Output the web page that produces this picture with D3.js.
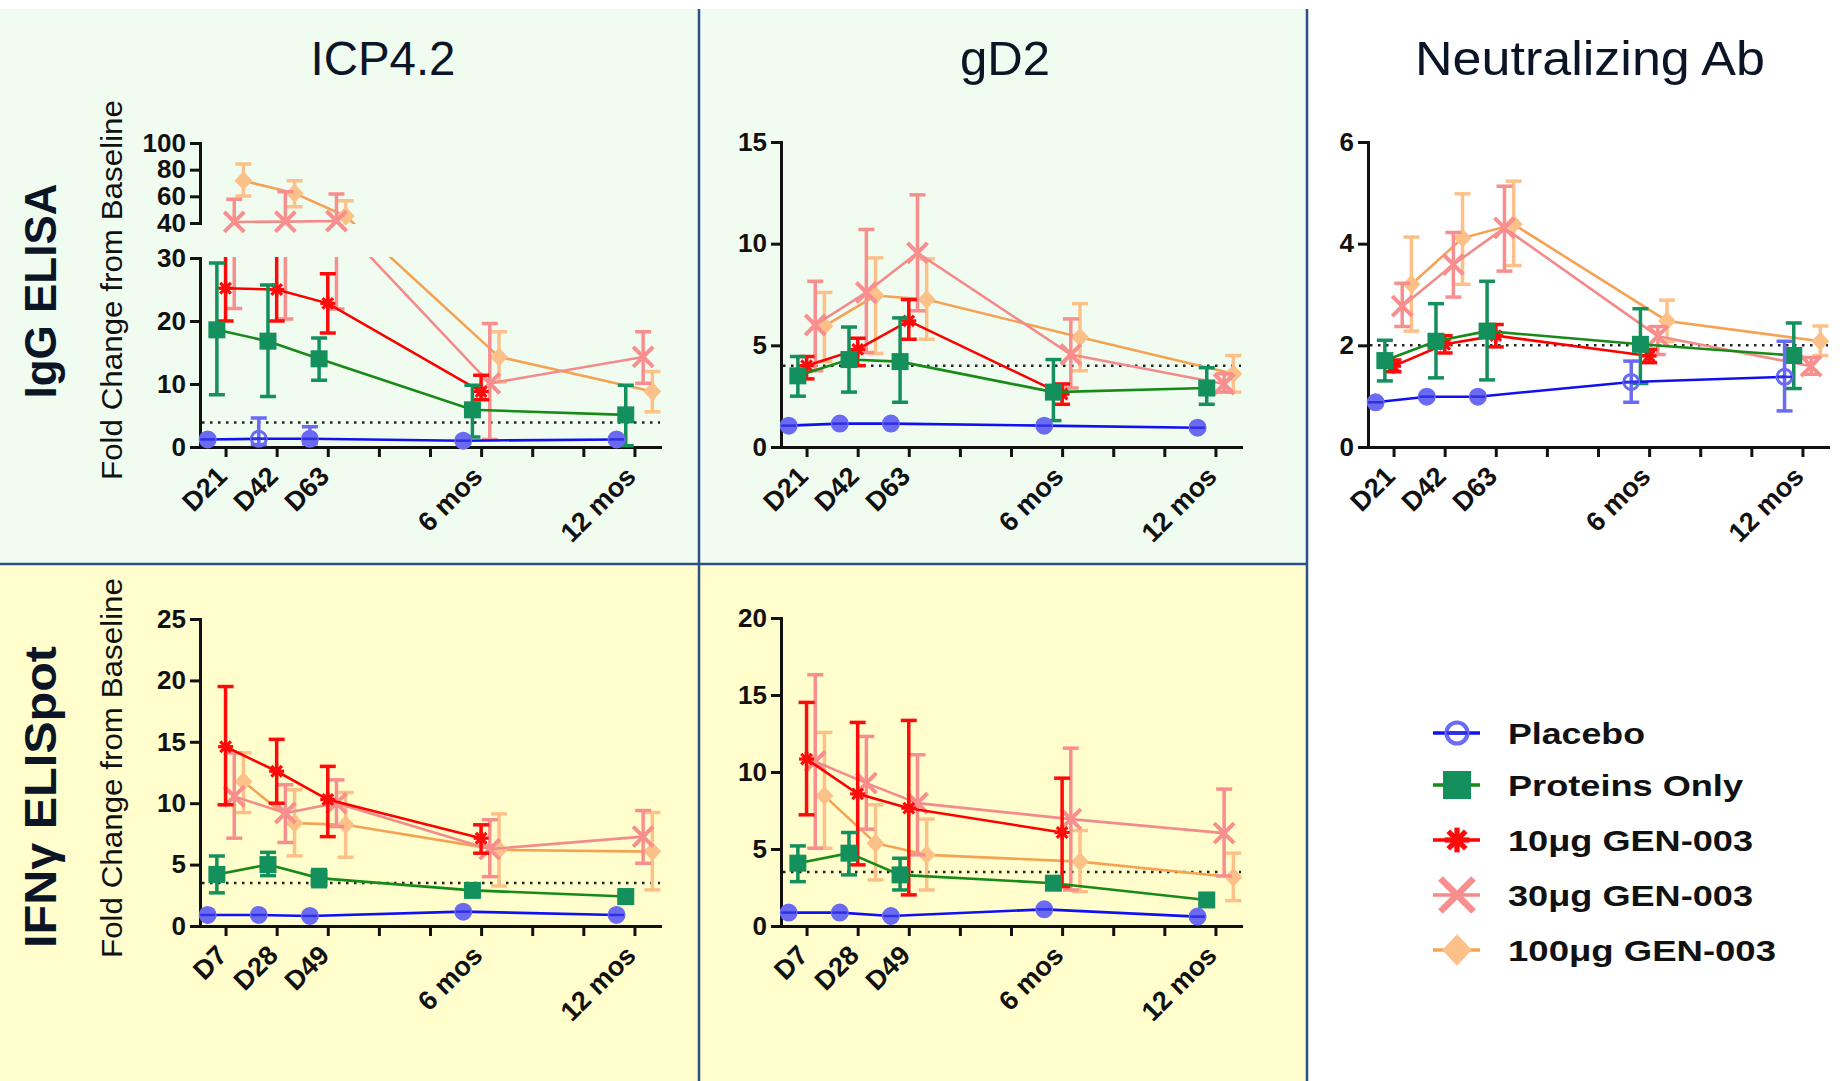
<!DOCTYPE html>
<html>
<head>
<meta charset="utf-8">
<script src="https://cdn.jsdelivr.net/npm/d3@7"></script>
<style>
  body { margin: 0; background: #fff; }
  svg { display: block; }
  text { font-family: "Liberation Sans", Arial, sans-serif; }
</style>
</head>
<body>
<svg id="chart" width="1843" height="1081"></svg>
<script>
// ---- data ----
const groups = ["Placebo", "Proteins Only", "10\u03bcg GEN-003", "30\u03bcg GEN-003", "100\u03bcg GEN-003"];
const iggTimes = ["D21", "D42", "D63", "6 mos", "12 mos"];
const ifnTimes = ["D7", "D28", "D49", "6 mos", "12 mos"];
const timeIdx = [1, 2, 3, 6, 9];   // position on the x axis (9 ticks)

// ICP4.2 IgG ELISA  (rows = groups, cols = time points)
const icpIggMean = [
  [1.2, 1.3, 1.3, 1.0, 1.2],
  [18.6, 16.8, 14.0, 5.9, 5.1],
  [25.2, 25.0, 22.8, 8.8, null],
  [40.8, 41.0, 41.5, 10.1, 14.3],
  [71.7, 62.3, 45.2, 14.3, 8.8]
];
const icpIggLow = [
  [1.0, 0.4, 0.5, 0.8, 1.0],
  [8.3, 8.0, 10.6, 1.6, 0.2],
  [20.0, 20.0, 18.1, 7.5, null],
  [22.0, 20.3, 21.9, 1.2, 10.1],
  [60.2, 52.2, 36.0, 10.3, 5.6]
];
const icpIggHigh = [
  [1.4, 4.6, 3.2, 1.2, 1.4],
  [29.2, 25.7, 17.3, 9.8, 9.8],
  [33.0, 33.0, 27.5, 11.4, null],
  [57.8, 63.5, 61.7, 19.6, 18.3],
  [84.2, 71.7, 56.7, 18.3, 12.0]
];

// gD2 IgG ELISA
const gd2IggMean = [
  [1.05, 1.15, 1.15, 1.05, 0.95],
  [3.5, 4.3, 4.2, 2.7, 2.9],
  [4.0, 4.8, 6.2, 2.6, null],
  [6.0, 7.6, 9.55, 4.55, 3.1],
  [5.95, 7.45, 7.25, 5.4, 3.6]
];
const gd2IggLow = [
  [0.95, 1.05, 1.05, 0.95, 0.85],
  [2.5, 2.7, 2.2, 1.3, 2.1],
  [3.35, 4.0, 5.3, 2.1, null],
  [3.75, 4.65, 6.7, 2.9, 2.7],
  [4.2, 4.6, 5.3, 3.75, 2.7]
];
const gd2IggHigh = [
  [1.15, 1.25, 1.25, 1.15, 1.05],
  [4.45, 5.9, 6.35, 4.3, 3.9],
  [4.45, 5.35, 7.25, 3.1, null],
  [8.15, 10.7, 12.4, 6.3, 3.6],
  [7.6, 9.3, 9.25, 7.05, 4.5]
];

// Neutralizing Ab
const nabMean = [
  [0.88, 0.99, 0.99, 1.28, 1.38],
  [1.7, 2.08, 2.28, 2.02, 1.8],
  [1.59, 2.02, 2.19, 1.79, null],
  [2.77, 3.59, 4.31, 2.18, 1.59],
  [3.2, 4.11, 4.38, 2.48, 2.08]
];
const nabLow = [
  [0.84, 0.95, 0.95, 0.88, 0.71],
  [1.3, 1.36, 1.32, 1.25, 1.15],
  [1.48, 1.85, 1.97, 1.66, null],
  [2.37, 2.95, 3.46, 1.82, 1.43],
  [2.28, 3.2, 3.57, 2.08, 1.8]
];
const nabHigh = [
  [0.92, 1.03, 1.03, 1.69, 2.08],
  [2.1, 2.82, 3.26, 2.72, 2.44],
  [1.71, 2.19, 2.41, 1.92, null],
  [3.22, 4.22, 5.13, 2.37, 1.76],
  [4.13, 4.98, 5.23, 2.89, 2.38]
];

// ICP4.2 IFN-gamma ELISpot
const icpIfnMean = [
  [0.9, 0.9, 0.82, 1.17, 0.9],
  [4.2, 5.0, 3.9, 2.9, 2.4],
  [14.6, 12.6, 10.3, 7.15, null],
  [10.55, 9.2, 10.0, 6.26, 7.28],
  [11.77, 8.38, 8.24, 6.2, 6.06]
];
const icpIfnLow = [
  [0.8, 0.8, 0.72, 1.07, 0.8],
  [2.7, 4.1, 3.2, 2.6, 2.1],
  [9.87, 10.0, 7.28, 5.93, null],
  [7.15, 6.8, 8.1, 4.02, 5.11],
  [9.24, 5.71, 5.6, 3.26, 2.94]
];
const icpIfnHigh = [
  [1.0, 1.0, 0.92, 1.27, 1.0],
  [5.7, 6.0, 4.6, 3.2, 2.7],
  [19.5, 15.2, 13.0, 8.24, null],
  [14.1, 11.5, 11.9, 8.65, 9.4],
  [14.1, 11.1, 10.87, 9.13, 9.24]
];

// gD2 IFN-gamma ELISpot
const gd2IfnMean = [
  [0.87, 0.87, 0.65, 1.08, 0.61],
  [4.08, 4.73, 3.32, 2.78, 1.69],
  [10.84, 8.58, 7.65, 6.07, null],
  [10.68, 9.28, 7.98, 6.94, 6.03],
  [8.45, 5.38, 4.62, 4.18, 3.17]
];
const gd2IfnLow = [
  [0.77, 0.77, 0.55, 0.98, 0.51],
  [2.88, 3.32, 2.34, 2.5, 1.5],
  [7.22, 3.97, 2.02, 2.56, null],
  [5.05, 6.29, 4.62, 2.34, 3.25],
  [5.05, 2.99, 2.34, 2.23, 1.65]
];
const gd2IfnHigh = [
  [0.97, 0.97, 0.75, 1.18, 0.71],
  [5.2, 6.07, 4.4, 3.1, 1.9],
  [14.52, 13.22, 13.35, 9.6, null],
  [16.32, 12.31, 11.12, 11.55, 8.89],
  [12.57, 7.87, 6.94, 6.2, 4.73]
];

// ---- styling ----
const style = [
  {line: "#1010f0", mark: "#6a6af2", shape: "circle"},
  {line: "#178a17", mark: "#13905c", shape: "square"},
  {line: "#ff0000", mark: "#ff0a0a", shape: "asterisk"},
  {line: "#f38b8b", mark: "#f88e8e", shape: "cross"},
  {line: "#f4a355", mark: "#fcc189", shape: "diamond"}
];
const groupOffset = [-0.35, -0.17, 0, 0.17, 0.35];
const plotW = 460;

const panels = [
  {title: "ICP4.2", tx: 383, tlen: 145, labels: iggTimes, mean: icpIggMean, low: icpIggLow, high: icpIggHigh,
   x0: 200, base: 447, thr: 3.9,
   segs: [{domain: [0, 30], range: [447, 258], ticks: [0, 10, 20, 30]},
          {domain: [40, 100], range: [223, 143], ticks: [40, 60, 80, 100]}]},
  {title: "gD2", tx: 1005, tlen: 90, labels: iggTimes, mean: gd2IggMean, low: gd2IggLow, high: gd2IggHigh,
   x0: 781, base: 447, thr: 4,
   segs: [{domain: [0, 15], range: [447, 142], ticks: [0, 5, 10, 15]}]},
  {title: "Neutralizing Ab", tx: 1590, tlen: 350, labels: iggTimes, mean: nabMean, low: nabLow, high: nabHigh,
   x0: 1368, base: 447, thr: 2,
   segs: [{domain: [0, 6], range: [447, 142], ticks: [0, 2, 4, 6]}]},
  {labels: ifnTimes, mean: icpIfnMean, low: icpIfnLow, high: icpIfnHigh,
   x0: 200, base: 926, thr: 3.5,
   segs: [{domain: [0, 25], range: [926, 619], ticks: [0, 5, 10, 15, 20, 25]}]},
  {labels: ifnTimes, mean: gd2IfnMean, low: gd2IfnLow, high: gd2IfnHigh,
   x0: 781, base: 926, thr: 3.5,
   segs: [{domain: [0, 20], range: [926, 618], ticks: [0, 5, 10, 15, 20]}]}
];

const svg = d3.select("#chart");

// ---- background blocks ----
svg.append("rect").attr("x", 0).attr("y", 9).attr("width", 1307).attr("height", 555).attr("fill", "#f0fcf0");
svg.append("rect").attr("x", 0).attr("y", 564).attr("width", 1307).attr("height", 517).attr("fill", "#fffecc");
const sep = "#2c5189";
svg.append("line").attr("x1", 699).attr("x2", 699).attr("y1", 9).attr("y2", 1081).attr("stroke", sep).attr("stroke-width", 2.5);
svg.append("line").attr("x1", 1307).attr("x2", 1307).attr("y1", 9).attr("y2", 1081).attr("stroke", sep).attr("stroke-width", 2.5);
svg.append("line").attr("x1", 0).attr("x2", 1307).attr("y1", 564).attr("y2", 564).attr("stroke", sep).attr("stroke-width", 2.5);

// row labels and axis titles
svg.append("text").attr("transform", "translate(56,291) rotate(-90)").attr("text-anchor", "middle")
  .attr("font-size", 44).attr("font-weight", "bold").attr("fill", "#0b1526")
  .attr("textLength", 215).attr("lengthAdjust", "spacingAndGlyphs").text("IgG ELISA");
svg.append("text").attr("transform", "translate(56,797) rotate(-90)").attr("text-anchor", "middle")
  .attr("font-size", 44).attr("font-weight", "bold").attr("fill", "#0b1526")
  .attr("textLength", 302).attr("lengthAdjust", "spacingAndGlyphs").text("IFN\u03b3 ELISpot");
[290, 768].forEach(cy => {
  svg.append("text").attr("transform", `translate(122,${cy}) rotate(-90)`).attr("text-anchor", "middle")
    .attr("font-size", 30).attr("textLength", 380).attr("lengthAdjust", "spacingAndGlyphs")
    .attr("fill", "#111").text("Fold Change from  Baseline");
});

// ---- helpers ----
function styleAxis(ax) {
  ax.attr("font-family", null).attr("font-size", null);
  ax.select(".domain").attr("stroke", "#111").attr("stroke-width", 3).attr("stroke-linecap", "square");
  ax.selectAll(".tick line").attr("stroke", "#111").attr("stroke-width", 3);
  ax.selectAll(".tick text").attr("font-size", 26).attr("font-weight", "bold").attr("fill", "#111")
    .attr("font-family", "'Liberation Sans', Arial, sans-serif");
}

function makeY(segs) {
  const sc = segs.map(s => d3.scaleLinear().domain(s.domain).range(s.range));
  if (segs.length === 1) return sc[0];
  const cut = (segs[0].domain[1] + segs[1].domain[0]) / 2;
  return v => (v <= cut ? sc[0](v) : sc[1](v));
}

function drawMarker(g, shape, cx, cy, k, color, filled) {
  if (shape === "circle") {
    g.append("circle").attr("cx", cx).attr("cy", cy).attr("r", 7.5 * k)
      .attr("fill", filled ? color : "none").attr("stroke", color).attr("stroke-width", 3 * k);
    g.append("line").attr("x1", cx - 7.5 * k).attr("x2", cx + 7.5 * k).attr("y1", cy).attr("y2", cy)
      .attr("stroke", "#2f2fe6").attr("stroke-width", 2.5 * k);
  } else if (shape === "square") {
    g.append("rect").attr("x", cx - 8.5 * k).attr("y", cy - 8.5 * k).attr("width", 17 * k).attr("height", 17 * k)
      .attr("fill", color);
  } else if (shape === "asterisk") {
    const r = 7.5 * k;
    [0, 45, 90, 135].forEach(a => {
      const dx = r * Math.cos(a * Math.PI / 180), dy = r * Math.sin(a * Math.PI / 180);
      g.append("line").attr("x1", cx - dx).attr("x2", cx + dx).attr("y1", cy - dy).attr("y2", cy + dy)
        .attr("stroke", color).attr("stroke-width", 3.2 * k);
    });
    g.append("circle").attr("cx", cx).attr("cy", cy).attr("r", 4 * k).attr("fill", color);
  } else if (shape === "cross") {
    const r = 10 * k;
    g.append("path").attr("d", `M${cx - r},${cy - r}L${cx + r},${cy + r}M${cx - r},${cy + r}L${cx + r},${cy - r}`)
      .attr("stroke", color).attr("stroke-width", 4 * k).attr("fill", "none");
  } else if (shape === "diamond") {
    const rx = 9 * k, ry = 9.5 * k;
    g.append("path").attr("d", `M${cx},${cy - ry}L${cx + rx},${cy}L${cx},${cy + ry}L${cx - rx},${cy}Z`)
      .attr("fill", color);
  }
}

// ---- panels ----
panels.forEach((p, pi) => {
  const g = svg.append("g");
  const x = d3.scaleLinear().domain([0.5, 9.5]).range([p.x0, p.x0 + plotW]);
  const y = makeY(p.segs);

  if (p.title) {
    g.append("text").attr("x", p.tx).attr("y", 75).attr("text-anchor", "middle")
      .attr("font-size", 48).attr("fill", "#0b1526")
      .attr("textLength", p.tlen).attr("lengthAdjust", "spacingAndGlyphs").text(p.title);
  }

  p.segs.forEach(s => {
    const sc = d3.scaleLinear().domain(s.domain).range(s.range);
    const ax = g.append("g").attr("transform", `translate(${p.x0},0)`)
      .call(d3.axisLeft(sc).tickValues(s.ticks).tickFormat(d3.format("d"))
        .tickSize(10).tickSizeOuter(0).tickPadding(4));
    styleAxis(ax);
  });
  const xa = g.append("g").attr("transform", `translate(0,${p.base})`)
    .call(d3.axisBottom(x).tickValues(d3.range(1, 10)).tickSize(10).tickSizeOuter(0).tickFormat(""));
  styleAxis(xa);

  p.labels.forEach((lab, i) => {
    g.append("text").attr("transform", `translate(${x(timeIdx[i]) + 3},${p.base + 31}) rotate(-45)`)
      .attr("text-anchor", "end").attr("font-size", 27).attr("font-weight", "bold").attr("fill", "#111").text(lab);
  });

  g.append("line").attr("x1", p.x0 + 2).attr("x2", p.x0 + plotW).attr("y1", y(p.thr)).attr("y2", y(p.thr))
    .attr("stroke", "#222").attr("stroke-width", 2.5).attr("stroke-dasharray", "2.5,5.5");

  // clip for broken axis
  let clip = null;
  if (p.segs.length > 1) {
    const id = "clip" + pi;
    const cp = svg.append("clipPath").attr("id", id);
    cp.append("rect").attr("x", p.x0 - 30).attr("y", p.segs[0].range[1] - 1).attr("width", plotW + 60)
      .attr("height", p.base - p.segs[0].range[1] + 40);
    cp.append("rect").attr("x", p.x0 - 30).attr("y", 100).attr("width", plotW + 60)
      .attr("height", p.segs[1].range[0] - 100 + 1);
    clip = `url(#${id})`;
  }

  // draw groups so that 10 ug sits above the higher doses
  [4, 3, 2, 1, 0].forEach(gi => {
    const st = style[gi];
    const pts = p.mean[gi].map((v, i) => ({
      v, lo: p.low[gi][i], hi: p.high[gi][i], xi: timeIdx[i] + groupOffset[gi]
    })).filter(d => d.v != null);
    const lg = g.append("g");
    if (clip) lg.attr("clip-path", clip);

    pts.forEach(d => {
      const xx = x(d.xi);
      lg.append("line").attr("x1", xx).attr("x2", xx).attr("y1", y(d.lo)).attr("y2", y(d.hi))
        .attr("stroke", st.mark).attr("stroke-width", 3.5);
      [d.lo, d.hi].forEach(e => {
        lg.append("line").attr("x1", xx - 8).attr("x2", xx + 8).attr("y1", y(e)).attr("y2", y(e))
          .attr("stroke", st.mark).attr("stroke-width", 3.5);
      });
    });

    const line = d3.line().x(d => x(d.xi)).y(d => y(d.v));
    lg.append("path").datum(pts).attr("d", line).attr("fill", "none")
      .attr("stroke", st.line).attr("stroke-width", 2.6);

    const mg = g.append("g");
    pts.forEach(d => {
      const span = Math.abs(y(d.lo) - y(d.hi));
      drawMarker(mg, st.shape, x(d.xi), y(d.v), 1, st.mark, span < 18);
    });
  });
});

// ---- legend ----
const legendY = [733, 785, 840, 895, 950];
const legendLen = [137, 235, 245, 245, 268];
const leg = svg.append("g");
groups.forEach((name, i) => {
  const st = style[i];
  const cy = legendY[i];
  leg.append("line").attr("x1", 1433).attr("x2", 1480).attr("y1", cy).attr("y2", cy)
    .attr("stroke", st.line).attr("stroke-width", 3.5);
  const k = st.shape === "circle" ? 1.4 : 1.65;
  drawMarker(leg, st.shape, 1457, cy, k, st.mark, false);
  leg.append("text").attr("x", 1508).attr("y", cy + 11).attr("font-size", 30).attr("font-weight", "bold")
    .attr("textLength", legendLen[i]).attr("lengthAdjust", "spacingAndGlyphs").attr("fill", "#111").text(name);
});
</script>
</body>
</html>
